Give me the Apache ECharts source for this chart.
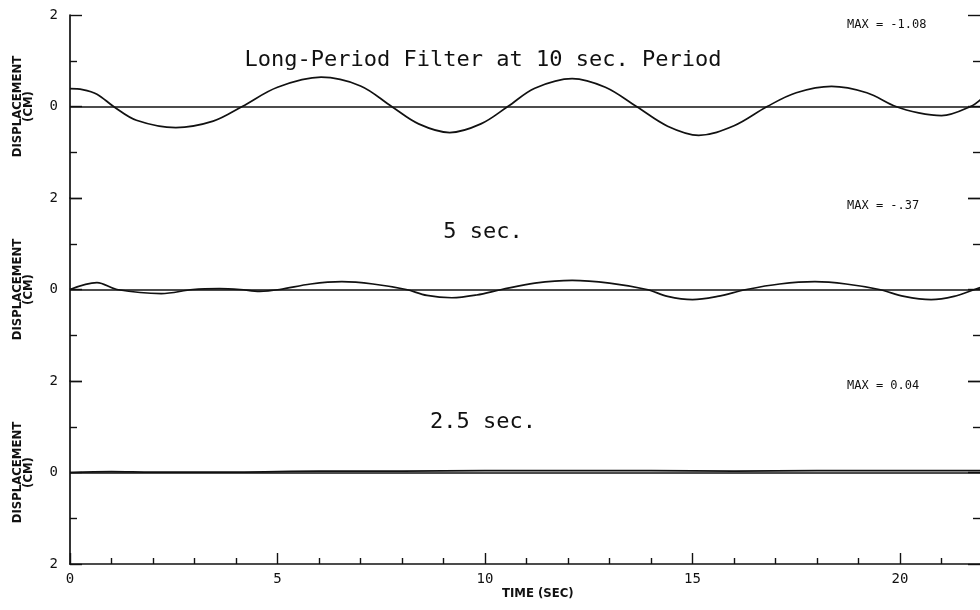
<!DOCTYPE html>
<html>
<head>
<meta charset="utf-8">
<title>Long-Period Filter</title>
<script src="https://cdn.jsdelivr.net/npm/echarts@6/dist/echarts.min.js"></script>
<style>
  html, body { margin: 0; padding: 0; background: #fff; }
  #chart { width: 980px; height: 610px; }
</style>
</head>
<body>
<div id="chart"></div>
<script>
// texts
const panelTitles = ['Long-Period Filter at 10 sec. Period', '5 sec.', '2.5 sec.'];
const maxLabels = ['MAX = -1.08', 'MAX = -.37', 'MAX = 0.04'];
const xTickLabels = [0, 5, 10, 15, 20];

// 10 sec trace (time in sec, displacement in cm)
const t10 = [0, 0.3, 0.65, 1.05, 1.6, 2.55, 3.45, 4.15, 5.0, 6.05, 7.0, 7.75, 8.4, 9.15, 9.9, 10.55, 11.2, 12.1, 12.9, 13.65, 14.4, 15.15, 16.0, 16.8, 17.5, 18.35, 19.2, 19.9, 20.45, 21.0, 21.7, 22];
const d10 = [0.39, 0.37, 0.27, 0, -0.3, -0.46, -0.32, 0, 0.42, 0.64, 0.45, 0, -0.38, -0.57, -0.38, 0, 0.4, 0.61, 0.42, 0, -0.43, -0.63, -0.42, 0, 0.3, 0.44, 0.3, 0, -0.14, -0.2, 0, 0.2];

// 5 sec trace
const t5 = [0, 0.65, 1.13, 2.2, 2.96, 3.6, 4.1, 4.57, 5.05, 5.8, 6.55, 7.3, 8.1, 8.6, 9.2, 9.8, 10.4, 11.2, 12.1, 13.0, 13.9, 14.4, 15.0, 15.6, 16.3, 17.1, 17.95, 18.7, 19.5, 20.1, 20.75, 21.3, 21.8, 22];
const d5 = [0, 0.15, 0, -0.09, 0, 0.02, 0, -0.04, 0, 0.12, 0.17, 0.12, 0, -0.13, -0.18, -0.12, 0, 0.14, 0.2, 0.14, 0, -0.15, -0.22, -0.15, 0, 0.12, 0.17, 0.12, 0, -0.15, -0.22, -0.15, 0, 0.06];

// 2.5 sec trace (almost flat)
const t25 = [0, 1, 2, 4, 6, 8, 10, 12, 14, 16, 18, 20, 22];
const d25 = [0, 0.02, 0.01, 0.01, 0.03, 0.03, 0.04, 0.04, 0.04, 0.03, 0.04, 0.04, 0.04];

const traces = [[t10, d10], [t5, d5], [t25, d25]];

const mono = 'DejaVu Sans Mono';
const ink = '#111';
const gridTop = [15, 198, 381];
const gridH = 183;

const grids = [], xAxes = [], yAxes = [], series = [], graphics = [];

traces.forEach(([ts, ds], i) => {
    const last = i === traces.length - 1;
    grids.push({ left: 70, width: 913, top: gridTop[i], height: gridH, outerBoundsMode: 'none', containLabel: false });
    xAxes.push({
        gridIndex: i,
        type: 'value',
        min: 0,
        max: 22,
        interval: 5,
        show: last,
        axisLine: { onZero: false, lineStyle: { color: ink, width: 1.7 } },
        axisTick: { inside: true, length: 11, lineStyle: { color: ink, width: 1.4 } },
        minorTick: { show: true, splitNumber: 5, length: 6, lineStyle: { color: ink, width: 1.4 } },
        splitLine: { show: false },
        axisLabel: {
            color: ink, fontFamily: mono, fontSize: 14, margin: 8,
            formatter: v => xTickLabels.includes(v) ? String(v) : ''
        }
    });
    // left axis
    yAxes.push({
        gridIndex: i,
        type: 'value',
        min: -2,
        max: 2,
        interval: 2,
        position: 'left',
        name: 'DISPLACEMENT\n(CM)',
        nameLocation: 'middle',
        nameRotate: 90,
        nameGap: 36,
        nameTextStyle: {
            color: ink, fontFamily: 'DejaVu Sans Condensed', fontWeight: 'bold',
            fontSize: 13, lineHeight: 11
        },
        axisLine: { show: true, onZero: false, lineStyle: { color: ink, width: 1.7 } },
        axisTick: { show: true, inside: true, length: 12, lineStyle: { color: ink, width: 1.4 } },
        minorTick: { show: true, splitNumber: 2, length: 7, lineStyle: { color: ink, width: 1.4 } },
        splitLine: { show: false },
        axisLabel: {
            color: ink, fontFamily: mono, fontSize: 14, margin: 12,
            formatter: v => (v === -2 && !last) ? '' : String(Math.abs(v))
        }
    });
    // right axis, ticks only
    yAxes.push({
        gridIndex: i,
        type: 'value',
        min: -2,
        max: 2,
        interval: 2,
        position: 'right',
        axisLine: { show: true, onZero: false, lineStyle: { color: ink, width: 1.7 } },
        axisTick: { show: true, inside: true, length: 15, lineStyle: { color: ink, width: 1.4 } },
        minorTick: { show: true, splitNumber: 2, length: 10, lineStyle: { color: ink, width: 1.4 } },
        splitLine: { show: false },
        axisLabel: { show: false }
    });
    series.push({
        type: 'line',
        xAxisIndex: i,
        yAxisIndex: i * 2,
        data: ts.map((t, k) => [t, ds[k]]),
        smooth: 0.35,
        symbol: 'none',
        lineStyle: { color: ink, width: 1.7 },
        markLine: {
            silent: true,
            symbol: 'none',
            label: { show: false },
            lineStyle: { color: ink, width: 1.5, type: 'solid' },
            data: [{ yAxis: 0 }]
        }
    });
});

const titleY = [60, 232, 422];
const maxY = [25, 206, 386];
panelTitles.forEach((txt, i) => {
    graphics.push({
        type: 'text',
        style: { text: txt, x: 483, y: titleY[i], font: '22px "DejaVu Sans Mono"', fill: ink, align: 'center', verticalAlign: 'middle' }
    });
    graphics.push({
        type: 'text',
        style: { text: maxLabels[i], x: 847, y: maxY[i], font: '12px "DejaVu Sans Mono"', fill: ink, align: 'left', verticalAlign: 'middle' }
    });
});
graphics.push({
    type: 'text',
    style: { text: 'TIME (SEC)', x: 502, y: 594, font: 'bold 13px "DejaVu Sans Condensed"', fill: ink, align: 'left', verticalAlign: 'middle' }
});

const chart = echarts.init(document.getElementById('chart'), null, { renderer: 'canvas' });
chart.setOption({
    backgroundColor: '#fff',
    animation: false,
    grid: grids,
    xAxis: xAxes,
    yAxis: yAxes,
    series: series,
    graphic: graphics
});
</script>
</body>
</html>
